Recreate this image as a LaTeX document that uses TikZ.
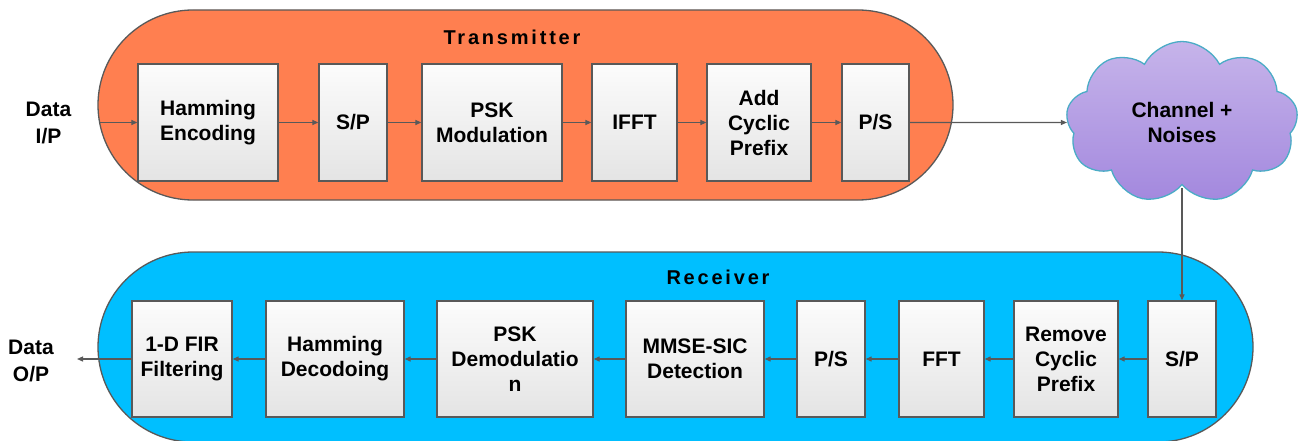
\documentclass[tikz,border=0pt]{standalone}
\usepackage{fontspec}
\setmainfont{Liberation Sans}
\newfontfamily\spacedfont[LetterSpace=14]{Liberation Sans}
\usetikzlibrary{arrows.meta,shapes.misc,shapes.symbols}

\definecolor{txorange}{HTML}{FF7F50}
\definecolor{rxblue}{HTML}{00BFFF}
\definecolor{linegray}{HTML}{595959}
\definecolor{boxtop}{HTML}{FCFCFC}
\definecolor{boxbot}{HTML}{E4E4E4}
\definecolor{cloudtop}{HTML}{C6B4EA}
\definecolor{cloudbot}{HTML}{A388DE}
\definecolor{cloudline}{HTML}{4BACC6}

\tikzset{
  capsule/.style={rounded rectangle, draw=linegray, line width=1.3pt, inner sep=0pt},
  blk/.style={draw=linegray, line width=1.3pt, top color=boxtop, bottom color=boxbot,
    align=center, inner sep=0pt, minimum height=117pt,
    font=\bfseries\fontsize{21}{25}\selectfont},
  rblk/.style={blk, minimum height=116pt},
  lbl/.style={align=center, inner sep=0pt, font=\bfseries\fontsize{21}{27}\selectfont},
  title/.style={inner sep=0pt, font=\spacedfont\bfseries\fontsize{20}{24}\selectfont},
  conn/.style={draw=linegray, line width=1.2pt, -{Triangle[length=6pt,width=5pt]}}
}

\begin{document}
\begin{tikzpicture}[x=1pt,y=-1pt]
\useasboundingbox (0,0) rectangle (1301,441);

% transmitter and receiver containers
\node[capsule, fill=txorange, minimum width=855pt, minimum height=190pt] (tx) at (525.5,105) {};
\node[capsule, fill=rxblue, minimum width=1155pt, minimum height=190pt] (rx) at (675.5,347) {};
\node[title] (ttx) at (512,37) {Transmitter};
\node[title] (trx) at (718,277) {Receiver};

% transmitter chain
\node[blk, minimum width=140pt] (tham)  at (208,122.5)   {Hamming\\Encoding};
\node[blk, minimum width=68pt]  (tsp)   at (353,122.5)   {S/P};
\node[blk, minimum width=140pt] (tpsk)  at (492,122.5)   {PSK\\Modulation};
\node[blk, minimum width=85pt]  (tifft) at (634.5,122.5) {IFFT};
\node[blk, minimum width=104pt] (tacp)  at (759,122.5)   {Add\\Cyclic\\Prefix};
\node[blk, minimum width=67pt]  (tps)   at (875.5,122.5) {P/S};

% channel
\node[cloud, cloud puffs=9, cloud puff arc=125, aspect=1.46,
      minimum width=232pt, minimum height=162pt, inner sep=0pt,
      draw=cloudline, line width=1.3pt, top color=cloudtop, bottom color=cloudbot,
      align=center, font=\bfseries\fontsize{21}{25}\selectfont] (cloud) at (1182,122.5)
      {Channel +\\Noises};

% receiver chain
\node[rblk, minimum width=68pt]  (rsp)   at (1182,359)  {S/P};
\node[rblk, minimum width=104pt] (rrcp)  at (1066,359)  {Remove\\Cyclic\\Prefix};
\node[rblk, minimum width=85pt]  (rfft)  at (941.5,359) {FFT};
\node[rblk, minimum width=68pt]  (rps)   at (831,359)   {P/S};
\node[rblk, minimum width=138pt] (rmmse) at (695,359)   {MMSE-SIC\\Detection};
\node[rblk, minimum width=156pt] (rpsk)  at (515,359)   {PSK\\Demodulatio\\n};
\node[rblk, minimum width=138pt] (rham)  at (335,359)   {Hamming\\Decodoing};
\node[rblk, minimum width=100pt] (rfir)  at (182,359)   {1-D FIR\\Filtering};

% data in / out labels
\node[lbl] (din)  at (48.5,123) {Data\\I/P};
\node[lbl] (dout) at (31,361)   {Data\\O/P};
\coordinate (inpt)  at (99.5,122.5);
\coordinate (outpt) at (77,359);

% connectors
\draw[conn] (inpt) -- (tham.west);
\draw[conn] (tham) -- (tsp);
\draw[conn] (tsp) -- (tpsk);
\draw[conn] (tpsk) -- (tifft);
\draw[conn] (tifft) -- (tacp);
\draw[conn] (tacp) -- (tps);
\draw[conn] (tps.east) -- (cloud.west);
\draw[conn] ([yshift=-3pt]cloud.south) -- (rsp.north);
\draw[conn] (rsp) -- (rrcp);
\draw[conn] (rrcp) -- (rfft);
\draw[conn] (rfft) -- (rps);
\draw[conn] (rps) -- (rmmse);
\draw[conn] (rmmse) -- (rpsk);
\draw[conn] (rpsk) -- (rham);
\draw[conn] (rham) -- (rfir);
\draw[conn] (rfir.west) -- (outpt);
\end{tikzpicture}
\end{document}
